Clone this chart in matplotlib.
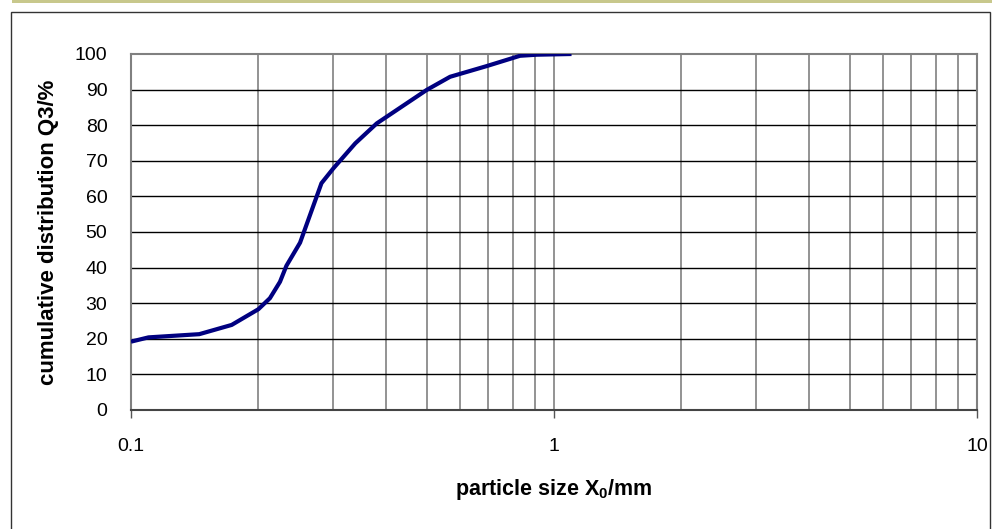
import numpy as np
import matplotlib
matplotlib.use("Agg")
import matplotlib.pyplot as plt
from matplotlib.patches import Rectangle
from matplotlib.ticker import FixedLocator, NullFormatter

plt.rcParams['font.family'] = ['Liberation Sans', 'DejaVu Sans']
plt.rcParams['mathtext.fontset'] = 'custom'
plt.rcParams['mathtext.rm'] = 'Liberation Sans'
plt.rcParams['mathtext.bf'] = 'Liberation Sans:bold'

# particle size (mm) and cumulative distribution Q3 (%)
size_mm = [0.1, 0.11, 0.145, 0.173, 0.2, 0.213, 0.225, 0.233, 0.251,
           0.282, 0.301, 0.339, 0.381, 0.5, 0.568, 0.693, 0.831, 0.91, 1.1]
q3 = [19.2, 20.4, 21.3, 23.9, 28.3, 31.4, 36.0, 40.5, 47.0,
      63.7, 67.9, 74.9, 80.5, 89.9, 93.6, 96.6, 99.5, 99.8, 100.0]

x_ticks = [0.1, 1, 10]
x_ticklabels = ['0.1', '1', '10']
y_ticks = list(range(0, 101, 10))

W, H = 992, 529
fig = plt.figure(figsize=(W / 100, H / 100), dpi=100)

# outer frame and top bar
fig.patches.append(Rectangle((12 / W, 1 - 3 / H), 1 - 12 / W, 3 / H,
                             transform=fig.transFigure, color='#c8c88c', lw=0))
fig.patches.append(Rectangle((11 / W, -0.01), (990 - 11) / W, 1 - 12 / H + 0.01,
                             transform=fig.transFigure, fill=False,
                             edgecolor='#333333', lw=1.0))

ax = fig.add_axes([131 / W, 1 - 410 / H, (977 - 131) / W, (410 - 54) / H])
ax.set_xscale('log')
ax.set_xlim(0.1, 10)
ax.set_ylim(0, 100)

# grid: vertical grey, horizontal black
minor = [m * d for d in (0.1, 1) for m in range(2, 10)]
for v in minor + [1]:
    ax.axvline(v, color='#808080', lw=1.2, zorder=1)
for h in y_ticks[1:-1]:
    ax.axhline(h, color='black', lw=1.0, zorder=1)

ax.plot(size_mm, q3, color='#000080', lw=3.0, zorder=3,
        solid_joinstyle='round', solid_capstyle='butt')

ax.xaxis.set_major_locator(FixedLocator(x_ticks))
ax.set_xticklabels(x_ticklabels)
ax.xaxis.set_minor_locator(FixedLocator([]))
ax.xaxis.set_minor_formatter(NullFormatter())
ax.set_yticks(y_ticks)

ax.tick_params(axis='x', length=6, width=1.0, color='#555555', pad=14,
               labelsize=14)
ax.tick_params(axis='y', length=0, pad=17, labelsize=14)

for s in ['top', 'right', 'left']:
    ax.spines[s].set_color('#808080')
    ax.spines[s].set_linewidth(1.5)
ax.spines['bottom'].set_color('#444444')
ax.spines['bottom'].set_linewidth(1.5)

ax.set_ylabel('cumulative distribution Q3/%', fontsize=16, fontweight='bold',
              labelpad=11)
ax.set_xlabel(r'particle size X$_\mathbf{0}$/mm', fontsize=15.5,
              fontweight='bold', labelpad=16)

fig.savefig('out.png', dpi=100)
